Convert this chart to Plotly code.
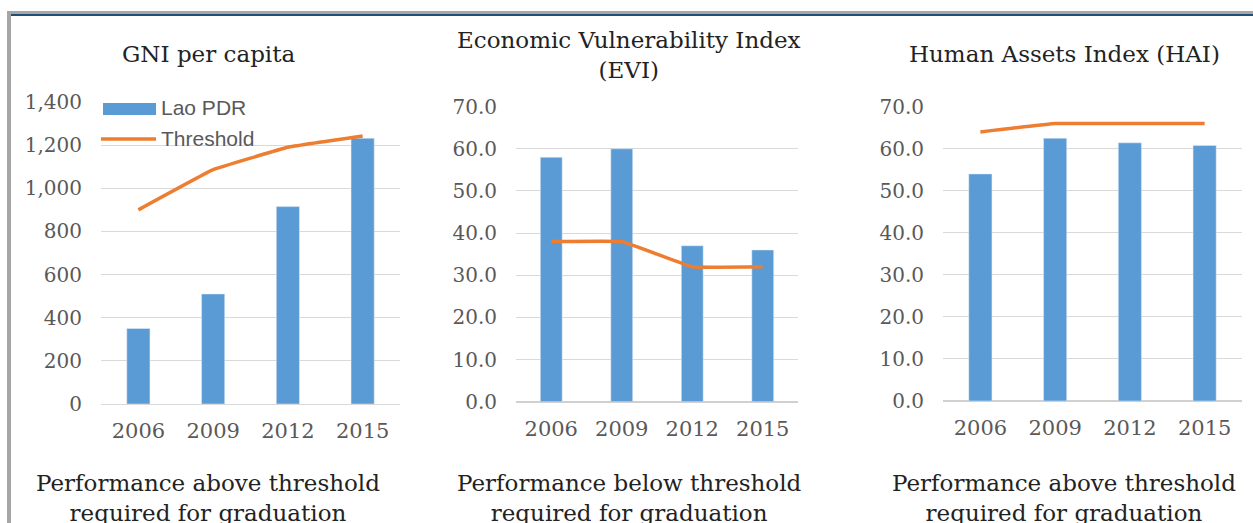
import plotly.graph_objects as go

years = ["2006", "2009", "2012", "2015"]

gni_lao = [350, 510, 915, 1232]
gni_threshold = [900, 1086, 1190, 1242]

evi_lao = [58.0, 60.0, 37.0, 36.0]
evi_threshold = [38.0, 38.0, 32.0, 32.0]

hai_lao = [54.0, 62.5, 61.4, 60.8]
hai_threshold = [64.0, 66.0, 66.0, 66.0]

titles = ["GNI per capita", "Economic Vulnerability Index<br>(EVI)", "Human Assets Index (HAI)"]
captions = ["Performance above threshold<br>required for graduation",
            "Performance below threshold<br>required for graduation",
            "Performance above threshold<br>required for graduation"]

W, H = 1253, 523
BAR = "#5B9BD5"
LINE = "#ED7D31"
GRID = "#D9D9D9"
TICK = "#595959"
SERIF = "DejaVu Serif"

fig = go.Figure()

panels = [
    (gni_lao, gni_threshold, (101, 400), (102, 404), [0, 1400], 200, ",.0f"),
    (evi_lao, evi_threshold, (516, 798), (106.7, 401.7), [0, 70], 10, ".1f"),
    (hai_lao, hai_threshold, (943, 1242), (106.7, 401), [0, 70], 10, ".1f"),
]

for i, (lao, thr, (x0, x1), (ytop, ybot), yr, dt, fmt) in enumerate(panels):
    n = "" if i == 0 else str(i + 1)
    fig.add_trace(go.Bar(x=years, y=lao, name="Lao PDR", marker_color=BAR,
                         showlegend=False, xaxis="x" + n, yaxis="y" + n))
    fig.add_trace(go.Scatter(x=years, y=thr, name="Threshold", mode="lines",
                             line=dict(color=LINE, width=3.5, shape="spline", smoothing=0.2),
                             showlegend=False, xaxis="x" + n, yaxis="y" + n))
    fig.update_layout(**{
        "xaxis" + n: dict(domain=[x0 / W, x1 / W], anchor="y" + n, automargin=False,
                          tickfont=dict(family=SERIF, size=21, color=TICK),
                          showgrid=False, showline=False, ticks="", ticklen=0,
                          ticklabelstandoff=12),
        "yaxis" + n: dict(domain=[1 - ybot / H, 1 - ytop / H], anchor="x" + n,
                          automargin=False,
                          range=yr, dtick=dt, tickformat=fmt,
                          tickfont=dict(family=SERIF, size=20, color=TICK),
                          gridcolor=GRID, gridwidth=1, showline=False,
                          zeroline=True, zerolinecolor="#D0D0D0" if i else GRID,
                          zerolinewidth=2 if i else 1, ticks="", ticklen=0,
                          ticklabelstandoff=18),
    })

fig.update_layout(bargap=0.69)

# titles and captions
centers = [208, 629, 1064]
title_y = [54, 55, 54]
for c, t, cap, ty in zip(centers, titles, captions, title_y):
    fig.add_annotation(x=c / W, y=1 - ty / H, xref="paper", yref="paper", text=t,
                       showarrow=False, xanchor="center", yanchor="middle",
                       font=dict(family=SERIF, size=23, color="#222222"))
    fig.add_annotation(x=c / W, y=1 - 498 / H, xref="paper", yref="paper", text=cap,
                       showarrow=False, xanchor="center", yanchor="middle",
                       font=dict(family=SERIF, size=23, color="#222222"))

# custom legend (panel 1)
fig.add_shape(type="rect", xref="paper", yref="paper",
              x0=103 / W, x1=156 / W, y0=1 - 115 / H, y1=1 - 103 / H,
              fillcolor=BAR, line=dict(width=0))
fig.add_shape(type="line", xref="paper", yref="paper",
              x0=101 / W, x1=156 / W, y0=1 - 139 / H, y1=1 - 139 / H,
              line=dict(color=LINE, width=3.5))
for txt, yy in [("Lao PDR", 108), ("Threshold", 138)]:
    fig.add_annotation(x=159 / W, y=1 - yy / H, xref="paper", yref="paper", text=txt,
                       showarrow=False, xanchor="left", yanchor="middle",
                       font=dict(family="Liberation Sans", size=21, color=TICK))

# frame
fig.add_shape(type="line", xref="paper", yref="paper", x0=9 / W, x1=9 / W,
              y0=0, y1=1 - 11 / H, line=dict(color="#A6A6A6", width=4))
fig.add_shape(type="line", xref="paper", yref="paper", x0=7 / W, x1=1,
              y0=1 - 12.5 / H, y1=1 - 12.5 / H, line=dict(color="#A6A6A6", width=3))
fig.add_shape(type="line", xref="paper", yref="paper", x0=11 / W, x1=1,
              y0=1 - 15 / H, y1=1 - 15 / H, line=dict(color="#1F4E79", width=2))

fig.update_layout(width=W, height=H, margin=dict(l=0, r=0, t=0, b=0, autoexpand=False),
                  paper_bgcolor="white", plot_bgcolor="white")

fig.write_html("out.html", config={"displayModeBar": False},
               post_script="document.body.style.margin='0px';document.body.style.overflow='hidden';")
